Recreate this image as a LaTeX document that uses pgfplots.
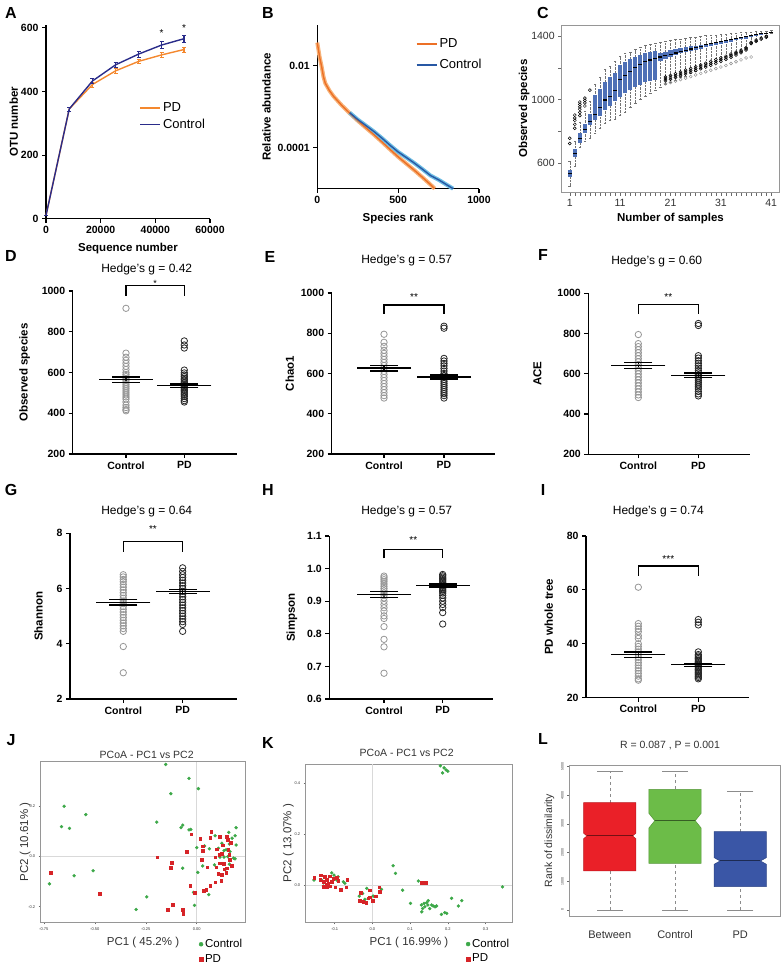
\documentclass[border=0pt]{standalone}
\usepackage{fontspec}
\setmainfont{Liberation Sans}
\usepackage{pgfplots}
\usepackage{pgfplotstable}
\pgfplotsset{compat=1.18}

\definecolor{pdor}{RGB}{244,136,46}
\definecolor{ctnavy}{RGB}{42,44,138}
\definecolor{bor}{RGB}{236,112,38}
\definecolor{borband}{RGB}{247,178,120}
\definecolor{bbl}{RGB}{40,88,164}
\definecolor{bblband}{RGB}{110,190,228}
\definecolor{cbox}{RGB}{78,112,182}
\definecolor{rframe}{RGB}{150,150,150}
\definecolor{pcgreen}{RGB}{60,168,72}
\definecolor{pcred}{RGB}{214,36,40}
\definecolor{lred}{RGB}{234,32,40}
\definecolor{lgreen}{RGB}{108,188,72}
\definecolor{lblue}{RGB}{58,86,166}
\definecolor{ctrlgray}{RGB}{150,150,150}
\definecolor{txtgray}{RGB}{50,50,50}

\pgfplotstableread{
n q1 med q3 lo hi
1 514 534 557 459 614
2 641 660 689 585 740
3 729 755 788 700 860
4 790 815 845 740 930
5 840 865 910 760 990
6 870 905 1030 790 1100
7 900 950 1070 820 1140
8 935 998 1113 850 1190
9 960 1020 1140 870 1210
10 990 1055 1170 880 1240
11 1018 1128 1218 900 1270
12 1040 1150 1235 920 1290
13 1060 1175 1255 950 1300
14 1080 1200 1268 980 1315
15 1095 1220 1280 1000 1330
16 1110 1237 1290 1020 1340
17 1120 1249 1300 1040 1350
18 1125 1258 1306 1060 1357
19 1240 1268 1292 1080 1362
20 1255 1276 1300 1100 1368
21 1270 1285 1310 1110 1372
22 1280 1293 1316 1125 1377
23 1290 1301 1322 1140 1382
24 1298 1310 1328 1150 1386
25 1305 1318 1334 1165 1390
26 1312 1327 1340 1180 1394
27 1320 1336 1346 1195 1398
28 1328 1344 1352 1210 1402
29 1336 1351 1358 1225 1405
30 1344 1358 1364 1240 1408
31 1350 1364 1370 1255 1411
32 1358 1370 1376 1270 1414
33 1365 1376 1382 1285 1417
34 1372 1382 1388 1300 1420
35 1378 1388 1393 1315 1422
36 1384 1394 1398 1330 1424
37 1392 1402 1406 1350 1426
38 1400 1408 1411 1370 1428
39 1406 1413 1416 1390 1430
40 1412 1418 1420 1405 1432
41 1418 1423 1425 1418 1434
}\Cbox

\pgfplotstableread{
n v
1 725
1 757
2 820
2 845
2 870
2 885
2 903
3 900
3 920
3 940
3 955
3 970
3 985
4 960
4 980
4 995
4 1010
5 1060
20 1118
20 1130
20 1142
21 1128
21 1140
21 1152
22 1139
22 1151
22 1163
23 1150
23 1162
23 1174
24 1161
24 1173
24 1185
25 1172
25 1184
25 1196
26 1183
26 1195
26 1207
27 1194
27 1206
27 1218
28 1205
28 1217
28 1229
29 1216
29 1228
29 1240
30 1227
30 1239
30 1251
31 1240
31 1251
31 1262
32 1253
32 1263
32 1273
33 1266
33 1276
33 1286
34 1280
34 1289
34 1298
35 1295
35 1303
35 1311
36 1312
36 1319
36 1326
37 1352
37 1360
38 1366
38 1374
39 1380
39 1387
40 1392
40 1398
}\Cout

\pgfplotstableread{
n v
20 1100
21 1108
22 1117
23 1126
24 1135
25 1145
26 1155
27 1165
28 1175
29 1185
30 1195
31 1205
32 1215
33 1227
34 1238
35 1250
36 1262
37 1268
}\Cgrey

\pgfplotsset{
  gp/.style={scale only axis, clip=false,
    axis x line*=bottom, axis y line*=left,
    every outer x axis line/.append style={-},
    every outer y axis line/.append style={-},
    axis line style={line width=1.1pt, black, -},
    tick align=outside, major tick length=4pt,
    tick style={line width=1.1pt, black},
    ticklabel style={font=\bfseries\fontsize{10.5}{12}\selectfont},
    label style={font=\bfseries\fontsize{11.5}{13}\selectfont},
    /pgf/number format/assume math mode=true,
    /pgf/number format/1000 sep={},
    scaled ticks=false},
  dotp/.style={gp, xtick={1,2}, xticklabels={Control,PD}},
  ctl/.style={only marks, mark=o, mark size=3.2pt, ctrlgray, line width=0.8pt},
  pdm/.style={only marks, mark=o, mark size=3.2pt, black!85, line width=0.8pt},
  meanl/.style={only marks, black, mark=-, mark size=27pt, line width=1.3pt},
  capl/.style={only marks, black, mark=-, mark size=14pt, line width=1.3pt},
  seml/.style={black, line width=1.3pt},
  rbox/.style={scale only axis, clip=false,
    axis line style={rframe, line width=0.7pt},
    tick align=outside, tick style={rframe!70!black, line width=0.5pt},
    xtick pos=bottom, ytick pos=left,
    /pgf/number format/assume math mode=true,
    /pgf/number format/1000 sep={}, scaled ticks=false},
}
\tikzset{star/.style={font=\fontsize{10}{11}\selectfont, yshift=-3pt}}

\newcommand{\plet}[3]{\node[font=\bfseries\fontsize{16}{18}\selectfont] at (#1pt,#2pt) {#3};}
\newcommand{\ptitle}[3]{\node[font=\fontsize{12}{14}\selectfont] at (#1pt,#2pt) {#3};}

\begin{document}
\begin{tikzpicture}
\useasboundingbox (0,0) rectangle (784pt,967pt);

% ---------------- A ----------------
\begin{axis}[gp, at={(46pt,748.3pt)}, anchor=south west, width=164pt, height=194pt,
  xmin=0, xmax=60000, ymin=0, ymax=610,
  xtick={0,20000,40000,60000}, ytick={0,200,400,600},
  xlabel={Sequence number}, ylabel={OTU number},
  ylabel shift=-4pt, xlabel shift=3pt,
  legend style={draw=none, fill=none, at={(0.55,0.62)}, anchor=north west,
    font=\fontsize{13}{15}\selectfont, row sep=2pt},
  legend cell align=left]
\addplot[pdor, line width=1.4pt,
  legend image code/.code={\draw[pdor, line width=1.6pt] (0pt,0pt) -- (20pt,0pt);},
  error bars/.cd, y dir=both, y explicit, error bar style={line width=1.1pt}]
  table[x=x, y=y, y error=e] {
x y e
0 10 0
8500 345 6
17000 422 7
25500 465 7
34000 495 7
42300 515 7
50500 532 8
};
\addlegendentry{PD}
\addplot[ctnavy, line width=1.4pt,
  legend image code/.code={\draw[ctnavy, line width=1.6pt] (0pt,0pt) -- (20pt,0pt);},
  error bars/.cd, y dir=both, y explicit, error bar style={line width=1.1pt}]
  table[x=x, y=y, y error=e] {
x y e
0 10 0
8500 345 6
17000 433 8
25500 484 9
34000 518 10
42300 546 11
50500 566 12
};
\addlegendentry{Control}
\node[star] at (axis cs:42300,592) {*};
\node[star] at (axis cs:50500,610) {*};
\end{axis}

% ---------------- B ----------------
\begin{axis}[gp, at={(317.3pt,778.3pt)}, anchor=south west, width=161.7pt, height=163.7pt,
  ymode=log, xmin=0, xmax=1000, ymin=1e-5, ymax=1e-1,
  xtick={0,500,1000}, ytick={1e-4,1e-2}, yticklabels={0.0001,0.01},
  xlabel={Species rank}, ylabel={Relative abundance}, xlabel shift=3pt,
  legend style={draw=none, fill=none, at={(0.59,0.94)}, anchor=north west,
    font=\fontsize{13}{15}\selectfont, row sep=6pt},
  legend cell align=left]
\addplot[borband, line width=4pt, forget plot] coordinates {
(0,0.037)(15,0.016)(27,0.0096)(38,0.0055)(49,0.0038)(75,0.0025)(101,0.0018)(150,0.0011)(202,0.00069)(250,0.00046)(300,0.00031)(350,0.00021)(401,0.000138)(450,0.000091)(500,0.00006)(550,0.000041)(601,0.000028)(650,0.000019)(700,0.0000126)(726,0.00001)};
\addplot[bblband, line width=4pt, forget plot] coordinates {
(200,0.00072)(250,0.00049)(300,0.00035)(350,0.00025)(401,0.00017)(450,0.000115)(500,0.000079)(550,0.000058)(601,0.000042)(650,0.00003)(700,0.000021)(750,0.0000165)(800,0.0000125)(840,0.00001)};
\addplot[bor, line width=1.4pt,
  legend image code/.code={\draw[bor, line width=1.6pt] (0pt,0pt) -- (20pt,0pt);}] coordinates {
(0,0.037)(15,0.016)(27,0.0096)(38,0.0055)(49,0.0038)(75,0.0025)(101,0.0018)(150,0.0011)(202,0.00069)(250,0.00046)(300,0.00031)(350,0.00021)(401,0.000138)(450,0.000091)(500,0.00006)(550,0.000041)(601,0.000028)(650,0.000019)(700,0.0000126)(726,0.00001)};
\addlegendentry{PD}
\addplot[bbl, line width=1.4pt,
  legend image code/.code={\draw[bbl, line width=1.6pt] (0pt,0pt) -- (20pt,0pt);}] coordinates {
(200,0.00072)(250,0.00049)(300,0.00035)(350,0.00025)(401,0.00017)(450,0.000115)(500,0.000079)(550,0.000058)(601,0.000042)(650,0.00003)(700,0.000021)(750,0.0000165)(800,0.0000125)(840,0.00001)};
\addlegendentry{Control}
\end{axis}

% ---------------- C ----------------
\begin{axis}[rbox, at={(561.7pt,774.7pt)}, anchor=south west, width=217.6pt, height=167.3pt,
  xmin=-0.6, xmax=42.6, ymin=418, ymax=1469,
  xtick={1,11,21,31,41}, minor xtick={2,...,40},
  ytick={600,1000,1400}, minor ytick={800,1200},
  major tick length=3.5pt, minor tick length=3.5pt,
  ticklabel style={font=\fontsize{10.5}{12}\selectfont, text=txtgray},
  xlabel={Number of samples}, ylabel={Observed species}, ylabel shift=-5pt,
  label style={font=\bfseries\fontsize{11.5}{13}\selectfont}]
\addplot[draw=none, forget plot, error bars/.cd, y dir=plus, y explicit, error mark=none,
  error bar style={draw=black!55, densely dotted, line width=0.5pt}]
  table[x=n, y=lo, y error expr=\thisrow{hi}-\thisrow{lo}] {\Cbox};
\addplot[only marks, mark=-, mark size=1.3pt, black!55, line width=0.4pt] table[x=n, y=lo] {\Cbox};
\addplot[only marks, mark=-, mark size=1.3pt, black!55, line width=0.4pt] table[x=n, y=hi] {\Cbox};
\addplot[draw=none, forget plot, error bars/.cd, y dir=plus, y explicit, error mark=none,
  error bar style={draw=cbox, solid, line width=4.2pt}]
  table[x=n, y=q1, y error expr=\thisrow{q3}-\thisrow{q1}] {\Cbox};
\addplot[only marks, mark=-, mark size=2pt, black, line width=1.1pt] table[x=n, y=med] {\Cbox};
\addplot[only marks, mark=o, mark size=1.5pt, black!45, line width=0.45pt] table[x=n, y=v] {\Cgrey};
\addplot[only marks, mark=o, mark size=1.5pt, black, line width=0.5pt] table[x=n, y=v] {\Cout};
\end{axis}

% ---------------- D ----------------
\begin{axis}[dotp, at={(72.7pt,513pt)}, anchor=south west, width=164.6pt, height=163pt,
  xmin=0.086, xmax=2.909, ymin=200, ymax=1000, ytick={200,400,600,800,1000},
  ylabel={Observed species}, ylabel shift=5pt]
\addplot[ctl] coordinates {(1,915)(1,695)(1,675)(1,660)(1,645)(1,630)(1,615)(1,600)(1,590)(1,580)(1,570)(1,560)(1,550)(1,540)(1,530)(1,520)(1,510)(1,500)(1,490)(1,480)(1,470)(1,455)(1,440)(1,428)(1,418)(1,412)};
\addplot[pdm] coordinates {(2,755)(2,735)(2,720)(2,612)(2,598)(2,588)(2,580)(2,572)(2,565)(2,558)(2,550)(2,543)(2,536)(2,530)(2,524)(2,518)(2,512)(2,505)(2,498)(2,490)(2,482)(2,472)(2,462)(2,455)};
\addplot[meanl] coordinates {(1,565)(2,535)};
\addplot[capl] coordinates {(1,552)(1,578)(2,528)(2,543)};
\addplot[seml] coordinates {(1,552)(1,578)};
\addplot[seml] coordinates {(2,528)(2,543)};
\draw[line width=1.2pt] (axis cs:1,977) -- (axis cs:1,1026) -- (axis cs:2,1026) -- (axis cs:2,977);
\node[star, font=\fontsize{9}{10}\selectfont] at (axis cs:1.5,1052) {*};
\end{axis}

% ---------------- E ----------------
\begin{axis}[dotp, at={(331.7pt,513pt)}, anchor=south west, width=163.3pt, height=161pt,
  xmin=0.128, xmax=2.85, ymin=200, ymax=1000, ytick={200,400,600,800,1000},
  ylabel={Chao1}]
\addplot[ctl] coordinates {(1,795)(1,755)(1,735)(1,715)(1,700)(1,685)(1,670)(1,655)(1,640)(1,625)(1,610)(1,595)(1,580)(1,565)(1,550)(1,535)(1,520)(1,505)(1,490)(1,478)};
\addplot[pdm] coordinates {(2,835)(2,825)(2,675)(2,662)(2,650)(2,638)(2,625)(2,612)(2,600)(2,590)(2,580)(2,570)(2,560)(2,550)(2,540)(2,530)(2,520)(2,510)(2,500)(2,490)(2,478)};
\addplot[meanl] coordinates {(1,627)(2,582)};
\addplot[capl] coordinates {(1,613)(1,641)(2,573)(2,592)};
\addplot[seml] coordinates {(1,613)(1,641)};
\addplot[seml] coordinates {(2,573)(2,592)};
\draw[line width=1.2pt] (axis cs:1,896) -- (axis cs:1,940) -- (axis cs:2,940) -- (axis cs:2,896);
\node[star] at (axis cs:1.5,995) {**};
\end{axis}

% ---------------- F ----------------
\begin{axis}[dotp, at={(588.3pt,512.7pt)}, anchor=south west, width=161.7pt, height=161pt,
  xmin=0.167, xmax=2.86, ymin=200, ymax=1000, ytick={200,400,600,800,1000},
  ylabel={ACE}, ylabel shift=9pt]
\addplot[ctl] coordinates {(1,795)(1,750)(1,735)(1,720)(1,705)(1,690)(1,675)(1,660)(1,645)(1,630)(1,615)(1,600)(1,585)(1,570)(1,555)(1,540)(1,525)(1,510)(1,495)(1,482)};
\addplot[pdm] coordinates {(2,850)(2,840)(2,690)(2,678)(2,665)(2,652)(2,640)(2,628)(2,616)(2,605)(2,595)(2,585)(2,575)(2,565)(2,555)(2,545)(2,535)(2,525)(2,512)(2,500)(2,490)};
\addplot[meanl] coordinates {(1,642)(2,593)};
\addplot[capl] coordinates {(1,628)(1,656)(2,583)(2,604)};
\addplot[seml] coordinates {(1,628)(1,656)};
\addplot[seml] coordinates {(2,583)(2,604)};
\draw[line width=1.2pt] (axis cs:1,896) -- (axis cs:1,945) -- (axis cs:2,945) -- (axis cs:2,896);
\node[star] at (axis cs:1.5,998) {**};
\end{axis}

% ---------------- G ----------------
\begin{axis}[dotp, at={(70pt,268pt)}, anchor=south west, width=166.7pt, height=165.7pt,
  xmin=0.103, xmax=2.91, ymin=2, ymax=8, ytick={2,4,6,8},
  ylabel={Shannon}, ylabel shift=7pt]
\addplot[ctl] coordinates {(1,6.5)(1,6.42)(1,6.33)(1,6.25)(1,6.15)(1,6.05)(1,5.95)(1,5.85)(1,5.75)(1,5.65)(1,5.55)(1,5.45)(1,5.35)(1,5.25)(1,5.15)(1,5.05)(1,4.95)(1,4.85)(1,4.75)(1,4.65)(1,4.55)(1,4.45)(1,3.9)(1,2.95)};
\addplot[pdm] coordinates {(2,6.75)(2,6.62)(2,6.5)(2,6.4)(2,6.3)(2,6.2)(2,6.1)(2,6.0)(2,5.9)(2,5.8)(2,5.7)(2,5.6)(2,5.5)(2,5.4)(2,5.3)(2,5.2)(2,5.1)(2,5.0)(2,4.9)(2,4.8)(2,4.7)(2,4.45)};
\addplot[meanl] coordinates {(1,5.5)(2,5.89)};
\addplot[capl] coordinates {(1,5.4)(1,5.6)(2,5.82)(2,5.97)};
\addplot[seml] coordinates {(1,5.4)(1,5.6)};
\addplot[seml] coordinates {(2,5.82)(2,5.97)};
\draw[line width=1.2pt] (axis cs:1,7.33) -- (axis cs:1,7.70) -- (axis cs:2,7.70) -- (axis cs:2,7.33);
\node[star] at (axis cs:1.5,8.25) {**};
\end{axis}

% ---------------- H ----------------
\begin{axis}[dotp, at={(329.3pt,268pt)}, anchor=south west, width=164pt, height=163pt,
  xmin=0.068, xmax=2.862, ymin=0.6, ymax=1.1, ytick={0.6,0.7,0.8,0.9,1.0,1.1},
  yticklabels={0.6,0.7,0.8,0.9,1.0,1.1},
  ylabel={Simpson}, ylabel shift=3pt]
\addplot[ctl] coordinates {(1,0.977)(1,0.972)(1,0.966)(1,0.96)(1,0.953)(1,0.946)(1,0.939)(1,0.932)(1,0.925)(1,0.918)(1,0.91)(1,0.9)(1,0.89)(1,0.88)(1,0.87)(1,0.855)(1,0.847)(1,0.822)(1,0.783)(1,0.76)(1,0.679)};
\addplot[pdm] coordinates {(2,0.982)(2,0.978)(2,0.974)(2,0.97)(2,0.966)(2,0.962)(2,0.958)(2,0.954)(2,0.95)(2,0.946)(2,0.942)(2,0.938)(2,0.934)(2,0.93)(2,0.925)(2,0.918)(2,0.91)(2,0.9)(2,0.89)(2,0.88)(2,0.865)(2,0.83)};
\addplot[meanl] coordinates {(1,0.920)(2,0.948)};
\addplot[capl] coordinates {(1,0.911)(1,0.929)(2,0.944)(2,0.953)};
\addplot[seml] coordinates {(1,0.911)(1,0.929)};
\addplot[seml] coordinates {(2,0.944)(2,0.953)};
\draw[line width=1.2pt] (axis cs:1,1.0316) -- (axis cs:1,1.059) -- (axis cs:2,1.059) -- (axis cs:2,1.0316);
\node[star] at (axis cs:1.5,1.098) {**};
\end{axis}

% ---------------- I ----------------
\begin{axis}[dotp, at={(586pt,269.3pt)}, anchor=south west, width=163.3pt, height=161.7pt,
  xmin=0.128, xmax=2.85, ymin=20, ymax=80, ytick={20,40,60,80},
  ylabel={PD whole tree}, ylabel shift=7pt]
\addplot[ctl] coordinates {(1,61)(1,47.5)(1,46.5)(1,45.5)(1,44.5)(1,43)(1,42)(1,40)(1,39)(1,38)(1,37)(1,36)(1,35)(1,34)(1,33)(1,32)(1,31)(1,30)(1,29)(1,28)(1,27)(1,26.5)};
\addplot[pdm] coordinates {(2,49)(2,48)(2,47)(2,37)(2,36)(2,35.5)(2,35)(2,34.5)(2,34)(2,33.5)(2,33)(2,32.5)(2,32)(2,31.5)(2,31)(2,30.5)(2,30)(2,29.5)(2,29)(2,28.5)(2,28)(2,27.5)(2,27)};
\addplot[meanl] coordinates {(1,36)(2,32.2)};
\addplot[capl] coordinates {(1,35)(1,37)(2,31.6)(2,32.8)};
\addplot[seml] coordinates {(1,35)(1,37)};
\addplot[seml] coordinates {(2,31.6)(2,32.8)};
\draw[line width=1.2pt] (axis cs:1,65.2) -- (axis cs:1,68.9) -- (axis cs:2,68.9) -- (axis cs:2,65.2);
\node[star] at (axis cs:1.5,72.5) {***};
\end{axis}

% ---------------- J ----------------
\begin{axis}[rbox, at={(40.7pt,44.7pt)}, anchor=south west, width=204.6pt, height=160.6pt,
  xmin=-0.765, xmax=0.238, ymin=-0.262, ymax=0.376,
  xtick={-0.75,-0.5,-0.25,0}, xticklabels={-0.75,-0.50,-0.25,0.00},
  ytick={-0.2,0,0.2}, yticklabels={-0.2,0.0,0.2},
  ticklabel style={font=\fontsize{4}{5}\selectfont, text=txtgray},
  major tick length=2pt,
  xlabel={PC1 ( 45.2\% )}, ylabel={PC2 ( 10.61\% )}, ylabel shift=-9pt,
  label style={font=\fontsize{11.5}{13}\selectfont, text=txtgray},
  legend style={draw=none, fill=none, at={(1.01,-0.08)}, anchor=north east,
    font=\fontsize{11.5}{13}\selectfont, row sep=1pt},
  legend image post style={mark size=2pt},
  legend cell align=left]
\draw[black!15, line width=0.6pt] (axis cs:0,-0.262) -- (axis cs:0,0.376);
\draw[black!15, line width=0.6pt] (axis cs:-0.765,0) -- (axis cs:0.238,0);
\addplot[only marks, mark=*, mark size=1.5pt, pcgreen] coordinates {
(-0.650,0.199)(-0.544,0.166)(-0.663,0.118)(-0.624,0.111)(-0.601,-0.077)(-0.508,-0.057)(-0.722,-0.109)
(-0.297,-0.211)(-0.245,-0.161)(-0.196,0.136)(-0.127,0.249)(0.008,0.269)(-0.038,0.31)(-0.152,0.365)
(-0.077,0.114)(-0.069,0.124)(-0.038,0.105)(-0.029,0.107)(-0.069,-0.047)(-0.016,-0.143)(-0.011,-0.195)
(0.000,0.035)(0.005,-0.064)(0.038,0.041)(0.029,-0.038)(0.059,-0.152)(0.062,0.030)(0.087,-0.034)
(0.090,0.082)(0.106,0.032)(0.114,-0.003)(0.123,0.052)(0.134,-0.003)(0.139,-0.053)(0.144,0.026)
(0.152,-0.001)(0.157,0.095)(0.160,0.049)(0.163,0.019)(0.173,0.072)(0.180,-0.007)(0.188,0.082)
(0.193,0.114)(0.188,-0.010)(0.193,0.045)(0.160,-0.031)(0.134,0.023)};
\addlegendentry{Control}
\addplot[only marks, mark=square*, mark size=1.3pt, pcred] coordinates {
(-0.716,-0.064)(-0.475,-0.149)(-0.193,-0.003)(-0.129,-0.044)(-0.124,-0.026)(-0.118,-0.193)(-0.142,-0.211)
(-0.069,-0.211)(-0.067,-0.228)(-0.049,0.019)(-0.033,-0.116)(-0.028,0.088)(-0.011,-0.145)(0.033,-0.136)
(0.016,0.070)(0.025,-0.014)(0.028,0.041)(0.029,0.023)(0.046,-0.132)(0.052,-0.043)(0.065,-0.116)
(0.070,0.098)(0.065,0.074)(0.090,-0.003)(0.095,-0.043)(0.098,0.028)(0.106,-0.069)(0.090,-0.103)
(0.114,0.078)(0.119,-0.097)(0.123,-0.073)(0.127,0.045)(0.131,-0.030)(0.134,-0.051)(0.144,-0.066)
(0.147,0.078)(0.152,0.065)(0.155,0.026)(0.160,0.006)(0.163,-0.014)(0.167,0.055)(0.172,-0.038)
(0.147,-0.047)(0.123,0.010)(0.114,-0.027)(0.111,0.006)};
\addlegendentry{PD}
\end{axis}

% ---------------- K ----------------
\begin{axis}[rbox, at={(305.7pt,44.7pt)}, anchor=south west, width=206.6pt, height=158.3pt,
  xmin=-0.177, xmax=0.371, ymin=-0.146, ymax=0.475,
  xtick={-0.1,0,0.1,0.2,0.3}, xticklabels={-0.1,0.0,0.1,0.2,0.3},
  ytick={0,0.2,0.4}, yticklabels={0.0,0.2,0.4},
  ticklabel style={font=\fontsize{4}{5}\selectfont, text=txtgray},
  major tick length=2pt,
  xlabel={PC1 ( 16.99\% )}, ylabel={PC2 ( 13.07\% )}, ylabel shift=-6pt,
  label style={font=\fontsize{11.5}{13}\selectfont, text=txtgray},
  legend style={draw=none, fill=none, at={(1.01,-0.08)}, anchor=north east,
    font=\fontsize{11.5}{13}\selectfont, row sep=1pt},
  legend image post style={mark size=2pt},
  legend cell align=left]
\draw[black!15, line width=0.6pt] (axis cs:0,-0.146) -- (axis cs:0,0.475);
\draw[black!15, line width=0.6pt] (axis cs:-0.177,0) -- (axis cs:0.371,0);
\addplot[only marks, mark=*, mark size=1.5pt, pcgreen] coordinates {
(0.19,0.46)(0.18,0.468)(0.195,0.452)(0.2,0.447)(0.186,0.44)
(0.055,0.076)(0.061,0.046)(0.080,-0.020)(0.101,-0.072)(0.122,0.016)(0.130,-0.078)(0.133,-0.092)
(0.137,-0.072)(0.139,-0.085)(0.144,-0.069)(0.147,-0.078)(0.148,-0.061)(0.131,-0.105)(0.152,-0.092)
(0.157,-0.078)(0.161,-0.082)(0.166,-0.085)(0.170,-0.082)(0.183,-0.115)(0.192,-0.108)(0.197,-0.111)
(0.210,-0.052)(0.228,-0.082)(0.237,-0.061)(0.345,-0.007)
(-0.155,0.020)(-0.135,0.020)(-0.130,-0.004)(-0.108,0.048)(-0.102,0.039)(-0.091,0.033)(-0.095,0.020)
(-0.077,0.013)(-0.073,0.007)(-0.015,-0.013)(-0.035,-0.043)(-0.020,-0.056)(-0.011,-0.052)(0.002,-0.043)
(0.024,-0.017)(-0.026,-0.033)};
\addlegendentry{Control}
\addplot[only marks, mark=square*, mark size=1.3pt, pcred] coordinates {
(-0.154,0.030)(-0.137,0.039)(-0.139,0.020)(-0.130,0.013)(-0.126,0.033)(-0.122,0.022)(-0.117,0.007)
(-0.114,0.035)(-0.122,-0.007)(-0.113,-0.004)(-0.108,0.013)(-0.104,0.026)(-0.123,0.004)(-0.099,-0.009)
(-0.095,0.030)(-0.091,0.017)(-0.084,-0.017)(-0.070,-0.009)(-0.067,0.022)(-0.130,-0.007)(-0.031,-0.030)
(-0.033,-0.061)(-0.024,-0.065)(-0.017,-0.069)(-0.011,-0.052)(-0.007,-0.048)(0.000,-0.061)(0.009,-0.043)
(0.018,-0.009)(0.020,-0.026)(-0.008,-0.020)(0.130,0.009)(0.142,0.009)};
\addlegendentry{PD}
\end{axis}

% ---------------- L ----------------
\begin{axis}[rbox, at={(569.3pt,51pt)}, anchor=south west, width=211.4pt, height=151pt,
  xmin=0.38, xmax=3.62, ymin=-210, ymax=5050,
  xtick={1,2,3}, xticklabels={Between,Control,PD},
  xticklabel style={font=\fontsize{11}{13}\selectfont, text=txtgray, yshift=-9pt},
  x tick style={draw=none},
  ytick={0,1000,2000,3000,4000,5000},
  yticklabel style={font=\fontsize{3.5}{4}\selectfont, text=txtgray, rotate=90, anchor=south},
  major tick length=2pt,
  ylabel={Rank of dissimilarity},
  ylabel style={font=\fontsize{10.5}{12}\selectfont, text=txtgray}]
\addplot[black!45, dashed, line width=0.5pt] coordinates {(1,0)(1,1359)};
\addplot[black!45, dashed, line width=0.5pt] coordinates {(1,3739)(1,4815)};
\addplot[black!45, dashed, line width=0.5pt] coordinates {(2,0)(2,1624)};
\addplot[black!45, dashed, line width=0.5pt] coordinates {(2,4205)(2,4815)};
\addplot[black!45, dashed, line width=0.5pt] coordinates {(3,0)(3,812)};
\addplot[black!45, dashed, line width=0.5pt] coordinates {(3,2728)(3,4146)};
\addplot[only marks, mark=-, mark size=13pt, black!45, line width=0.5pt] coordinates {(1,0)(1,4815)(2,0)(2,4815)(3,0)(3,4146)};
\addplot[fill=lred, draw=lred!80!black, line width=0.5pt] coordinates {
(0.6,1359)(1.4,1359)(1.4,2483)(1.35,2578)(1.4,2673)(1.4,3739)(0.6,3739)(0.6,2673)(0.65,2578)(0.6,2483)} -- cycle;
\addplot[fill=lgreen, draw=lgreen!80!black, line width=0.5pt] coordinates {
(1.6,1624)(2.4,1624)(2.4,2856)(2.31,3111)(2.4,3366)(2.4,4205)(1.6,4205)(1.6,3366)(1.69,3111)(1.6,2856)} -- cycle;
\addplot[fill=lblue, draw=lblue!80!black, line width=0.5pt] coordinates {
(2.6,812)(3.4,812)(3.4,1591)(3.31,1707)(3.4,1823)(3.4,2728)(2.6,2728)(2.6,1823)(2.69,1707)(2.6,1591)} -- cycle;
\addplot[lred!50!black, line width=1pt] coordinates {(0.65,2578)(1.35,2578)};
\addplot[lgreen!50!black, line width=1pt] coordinates {(1.69,3111)(2.31,3111)};
\addplot[lblue!50!black, line width=1pt] coordinates {(2.69,1707)(3.31,1707)};
\end{axis}

% ---------------- letters and titles ----------------
\plet{11}{954}{A}
\plet{268}{954}{B}
\plet{543}{954}{C}
\plet{11}{711}{D}
\plet{270}{710}{E}
\plet{543}{712}{F}
\plet{11}{477}{G}
\plet{268}{477}{H}
\plet{543}{477}{I}
\plet{11}{227}{J}
\plet{268}{224}{K}
\plet{543}{228}{L}

\ptitle{146.7}{698}{Hedge’s g = 0.42}
\ptitle{406.7}{707}{Hedge’s g = 0.57}
\ptitle{656.7}{706}{Hedge’s g = 0.60}
\ptitle{146.7}{455.3}{Hedge’s g = 0.64}
\ptitle{406.7}{455.3}{Hedge’s g = 0.57}
\ptitle{658.3}{455.3}{Hedge’s g = 0.74}

\node[font=\fontsize{10.5}{12}\selectfont, text=txtgray] at (146.7pt,212pt) {PCoA - PC1 vs PC2};
\node[font=\fontsize{10.5}{12}\selectfont, text=txtgray] at (406.7pt,213.7pt) {PCoA - PC1 vs PC2};
\node[font=\fontsize{10.5}{12}\selectfont, text=txtgray] at (670pt,221pt) {R = 0.087 , P = 0.001};
\end{tikzpicture}
\end{document}
